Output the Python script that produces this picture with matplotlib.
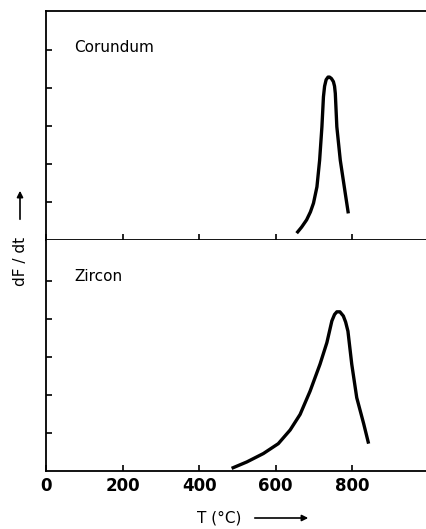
import matplotlib.pyplot as plt
from matplotlib.patches import FancyArrowPatch

# values (T in degC, dF/dt in tick units)
cor_T = [655, 668, 681, 691, 699, 708, 715, 721, 725, 728, 732, 737, 741, 746, 751, 754, 756, 760, 769, 782, 790]
cor_y = [0.18, 0.34, 0.53, 0.74, 0.97, 1.40, 2.10, 2.98, 3.77, 4.05, 4.22, 4.29, 4.29, 4.25, 4.17, 4.05, 3.86, 2.98, 2.10, 1.23, 0.70]

zir_T = [485, 525, 568, 607, 638, 664, 690, 716, 734, 747, 754, 760, 768, 777, 783, 789, 799, 812, 830, 843]
zir_y = [0.07, 0.24, 0.46, 0.72, 1.08, 1.49, 2.10, 2.81, 3.38, 3.95, 4.12, 4.19, 4.19, 4.08, 3.92, 3.68, 2.81, 1.93, 1.25, 0.72]

x_ticks = [0, 200, 400, 600, 800]
y_ticks = [1, 2, 3, 4, 5]

fig = plt.figure(figsize=(4.26, 5.29), dpi=100)
ax1 = fig.add_axes([0.108, 0.5463, 0.892, 0.4329])
ax2 = fig.add_axes([0.108, 0.1096, 0.892, 0.4367])

for ax, T, y, name in [(ax1, cor_T, cor_y, "Corundum"), (ax2, zir_T, zir_y, "Zircon")]:
    ax.plot(T, y, color='black', lw=2.4, solid_capstyle='butt', solid_joinstyle='round')
    ax.set_xlim(0, 993)
    ax.set_xticks(x_ticks)
    ax.set_yticks(y_ticks)
    ax.tick_params(direction='in', length=4, width=1.2, color='black')
    ax.set_yticklabels([])
    ax.spines['right'].set_visible(False)
    for s in ['left', 'bottom', 'top']:
        ax.spines[s].set_linewidth(1.3)
    ax.text(0.075, 0.84, name, transform=ax.transAxes, fontsize=11, va='center')

ax1.set_ylim(0, 6.03)
ax1.set_xticklabels([])
ax2.set_ylim(0, 6.08)
ax2.spines['top'].set_visible(False)
ax2.set_xticklabels([str(t) for t in x_ticks], fontsize=12, fontweight='bold')
ax2.tick_params(axis='x', pad=4)

# axis labels with arrows
fig.text(20 / 426, 1 - 261 / 529, "dF / dt", rotation=90, fontsize=11,
         ha='center', va='center')
fig.add_artist(FancyArrowPatch(
    (20 / 426, 1 - 222 / 529), (20 / 426, 1 - 188 / 529), transform=fig.transFigure,
    arrowstyle='-|>', mutation_scale=9, lw=1.2, color='black'))
fig.text(219 / 426, 1 - 518 / 529, "T (°C)", fontsize=11, ha='center', va='center')
fig.add_artist(FancyArrowPatch(
    (252 / 426, 1 - 518 / 529), (311 / 426, 1 - 518 / 529), transform=fig.transFigure,
    arrowstyle='-|>', mutation_scale=9, lw=1.2, color='black'))

fig.savefig("out.png", dpi=100)
